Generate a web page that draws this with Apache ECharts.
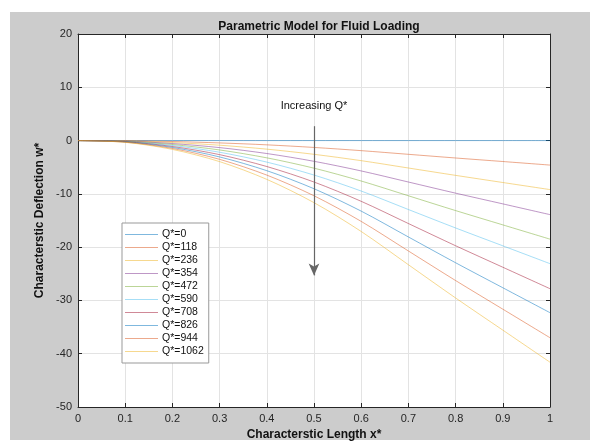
<!DOCTYPE html>
<html>
<head>
<meta charset="utf-8">
<script src="https://cdn.jsdelivr.net/npm/echarts@6/dist/echarts.min.js"></script>
<style>
  html, body { margin: 0; padding: 0; background: #fff; }
  #chart { width: 598px; height: 448px; }
</style>
</head>
<body>
<div id="chart"></div>
<script>
// x positions (Characterstic Length x*)
var xs = [0, 0.1, 0.2, 0.3, 0.4, 0.5, 0.6, 0.7, 0.8, 0.9, 1];

var qNames = ['Q*=0', 'Q*=118', 'Q*=236', 'Q*=354', 'Q*=472', 'Q*=590', 'Q*=708', 'Q*=826', 'Q*=944', 'Q*=1062'];

// deflection w*, one array per Q*
var w0    = [0, 0, 0, 0, 0, 0, 0, 0, 0, 0, 0];
var w118  = [0, -0.04, -0.18, -0.44, -0.8, -1.29, -1.89, -2.58, -3.27, -3.93, -4.6];
var w236  = [0, -0.07, -0.37, -0.87, -1.61, -2.58, -3.77, -5.15, -6.53, -7.87, -9.2];
var w354  = [0, -0.11, -0.56, -1.32, -2.43, -3.89, -5.7, -7.78, -9.87, -11.88, -13.9];
var w472  = [0, -0.15, -0.74, -1.76, -3.24, -5.18, -7.59, -10.36, -13.14, -15.82, -18.5];
var w590  = [0, -0.18, -0.92, -2.19, -4.04, -6.47, -9.47, -12.94, -16.4, -19.75, -23.1];
var w708  = [0, -0.22, -1.11, -2.64, -4.87, -7.78, -11.4, -15.57, -19.74, -23.77, -27.8];
var w826  = [0, -0.26, -1.29, -3.07, -5.65, -9.04, -13.24, -18.09, -22.93, -27.62, -32.3];
var w944  = [0, -0.3, -1.48, -3.52, -6.48, -10.36, -15.17, -20.72, -26.27, -31.64, -37.0];
var w1062 = [0, -0.33, -1.66, -3.95, -7.28, -11.65, -17.06, -23.3, -29.54, -35.57, -41.6];

var allW = [w0, w118, w236, w354, w472, w590, w708, w826, w944, w1062];

// arrow "Increasing Q*"
var arrowX = 0.5;
var arrowFrom = 2.7;
var arrowTo = -25.3;
var noteY = 6.4;

var colors = ['#0072BD', '#D95319', '#EDB120', '#7E2F8E', '#77AC30', '#4DBEEE', '#A2142F', '#0072BD', '#D95319', '#EDB120'];
var font = "'Liberation Sans', Arial, Helvetica, sans-serif";

var series = [];
for (var i = 0; i < allW.length; i++) {
  series.push({
    name: qNames[i],
    type: 'line',
    smooth: 0.3,
    showSymbol: false,
    symbol: 'none',
    lineStyle: { width: 1, color: colors[i], opacity: 0.5 },
    itemStyle: { color: colors[i], opacity: 0.5 },
    data: xs.map(function (x, k) { return [x, allW[i][k]] }),
    z: 3
  });
}
// arrow + annotation
series.push({
  name: 'arrow',
  type: 'line',
  data: [],
  markLine: {
    silent: true,
    symbol: ['none', 'arrow'],
    symbolSize: [8, 12],
    lineStyle: { color: '#666', width: 1.2, type: 'solid' },
    label: { show: false },
    data: [[{ coord: [arrowX, arrowFrom] }, { coord: [arrowX, arrowTo] }]]
  },
  markPoint: {
    silent: true,
    symbolSize: 0,
    label: { show: true, formatter: 'Increasing Q*', color: '#111', fontSize: 11, fontFamily: font },
    data: [{ coord: [arrowX, noteY] }]
  }
});

var axisLineStyle = { color: '#262626' };

var chart = echarts.init(document.getElementById('chart'));
chart.setOption({
  animation: false,
  backgroundColor: '#fff',
  graphic: [{
    type: 'rect', z: -10,
    shape: { x: 10, y: 12, width: 580, height: 428 },
    style: { fill: '#cccccc' }
  }],
  title: {
    text: 'Parametric Model for Fluid Loading',
    left: 314, top: 16, textAlign: 'center',
    textStyle: { fontSize: 12, fontWeight: 'bold', color: '#111', fontFamily: font }
  },
  grid: { left: 78, top: 34, right: 48, bottom: 41, show: true, backgroundColor: '#fff', borderWidth: 0 },
  legend: {
    data: qNames,
    orient: 'vertical',
    left: 122, top: 223,
    padding: [5, 5, 5, 3],
    backgroundColor: '#fff',
    borderColor: '#999',
    borderWidth: 1,
    itemWidth: 33, itemHeight: 1, itemGap: 0,
    icon: 'rect',
    textStyle: { fontSize: 10.5, lineHeight: 13, color: '#111', fontFamily: font, padding: [0, 0, 0, -1] }
  },
  xAxis: [{
    type: 'value', min: 0, max: 1, interval: 0.1,
    name: 'Characterstic Length x*', nameLocation: 'middle', nameGap: 19,
    nameTextStyle: { fontSize: 12, fontWeight: 'bold', color: '#111', fontFamily: font },
    axisLine: { onZero: false, lineStyle: axisLineStyle },
    axisTick: { inside: true, length: 4, lineStyle: axisLineStyle },
    axisLabel: { fontSize: 11, color: '#262626', margin: 6, fontFamily: font },
    splitLine: { lineStyle: { color: '#e3e3e3' } }
  }, {
    type: 'value', min: 0, max: 1, interval: 0.1, position: 'top',
    axisLine: { onZero: false, lineStyle: axisLineStyle },
    axisTick: { inside: true, length: 4, lineStyle: axisLineStyle },
    axisLabel: { show: false }, splitLine: { show: false }
  }],
  yAxis: [{
    type: 'value', min: -50, max: 20, interval: 10,
    name: 'Characterstic Deflection w*', nameLocation: 'middle', nameGap: 31,
    nameTextStyle: { fontSize: 12, fontWeight: 'bold', color: '#111', fontFamily: font },
    axisLine: { show: true, onZero: false, lineStyle: axisLineStyle },
    axisTick: { show: true, inside: true, length: 4, lineStyle: axisLineStyle },
    axisLabel: { fontSize: 11, color: '#262626', margin: 6, fontFamily: font },
    splitLine: { lineStyle: { color: '#e3e3e3' } }
  }, {
    type: 'value', min: -50, max: 20, interval: 10, position: 'right',
    axisLine: { show: true, onZero: false, lineStyle: axisLineStyle },
    axisTick: { show: true, inside: true, length: 4, lineStyle: axisLineStyle },
    axisLabel: { show: false }, splitLine: { show: false }
  }],
  series: series
});
</script>
</body>
</html>
